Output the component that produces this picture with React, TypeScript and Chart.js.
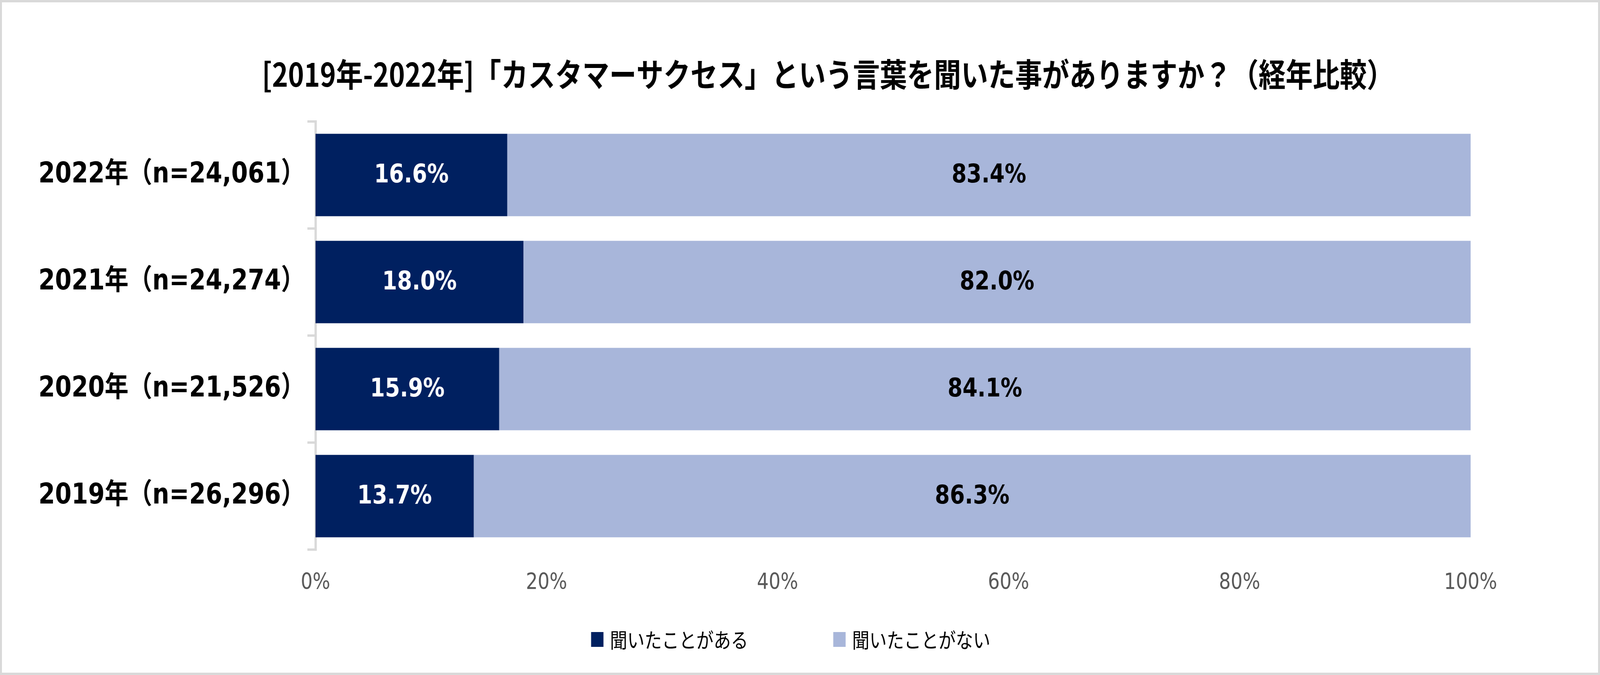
import React, { useEffect, useRef } from 'react';
import { Chart, registerables } from 'chart.js';

Chart.register(...registerables);

const TITLE = '[2019年-2022年]「カスタマーサクセス」という言葉を聞いた事がありますか？（経年比較）';
const CATEGORIES = ['2022年（n=24,061）', '2021年（n=24,274）', '2020年（n=21,526）', '2019年（n=26,296）'];
const SERIES_NAMES = ['聞いたことがある', '聞いたことがない'];
const HEARD = [16.6, 18.0, 15.9, 13.7];
const NOT_HEARD = [83.4, 82.0, 84.1, 86.3];
const X_TICKS_MAX = 100;
const X_TICKS_STEP = 20;

const COLORS = ['#002060', '#A8B6DA'];
const LABEL_COLORS = ['#FFFFFF', '#000000'];
const LATIN = "'DejaVu Sans', 'Noto Sans CJK JP', sans-serif";
const CJK = "'Noto Sans CJK JP', sans-serif";

const W = 4909;
const H = 1728;

const decorPlugin = {
  id: 'decor',
  beforeDraw(chart: any) {
    const ctx = chart.ctx;
    ctx.save();
    ctx.fillStyle = '#FFFFFF';
    ctx.fillRect(0, 0, chart.width, chart.height);
    ctx.restore();
  },
  afterDraw(chart: any) {
    const ctx = chart.ctx;
    ctx.save();
    // title
    ctx.fillStyle = '#000000';
    ctx.font = `bold 83px ${CJK}`;
    ctx.textAlign = 'center';
    ctx.textBaseline = 'middle';
    ctx.fillText(TITLE, 2540, 190);

    // legend
    const ds = chart.data.datasets;
    ctx.font = `53px ${CJK}`;
    const box = 38;
    const gapText = 20;
    const gapItems = 261;
    const widths = ds.map((d: any) => box + gapText + ctx.measureText(d.label).width);
    const total = widths.reduce((a: number, b: number) => a + b, 0) + gapItems * (ds.length - 1);
    let x = 2426 - total / 2;
    const cy = 1637;
    ds.forEach((d: any, i: number) => {
      ctx.fillStyle = d.backgroundColor;
      ctx.fillRect(x, cy - box / 2, box, box);
      ctx.fillStyle = '#000000';
      ctx.textAlign = 'left';
      ctx.textBaseline = 'middle';
      ctx.fillText(d.label, x + box + gapText, cy + 2);
      x += widths[i] + gapItems;
    });

    // outer border
    ctx.strokeStyle = '#D9D9D9';
    ctx.lineWidth = 6;
    ctx.strokeRect(3, 3, chart.width - 6, chart.height - 6);
    ctx.restore();
  },
};

const dataLabelPlugin = {
  id: 'dataLabels',
  afterDatasetsDraw(chart: any) {
    const ctx = chart.ctx;
    ctx.save();
    ctx.font = `bold 66px ${LATIN}`;
    ctx.textAlign = 'center';
    ctx.textBaseline = 'middle';
    chart.data.datasets.forEach((d: any, di: number) => {
      const meta = chart.getDatasetMeta(di);
      meta.data.forEach((el: any, i: number) => {
        const p = el.getCenterPoint();
        ctx.fillStyle = LABEL_COLORS[di];
        ctx.fillText(`${Number(d.data[i]).toFixed(1)}%`, p.x, p.y + 2);
      });
    });
    ctx.restore();
  },
};

export default function App() {
  const ref = useRef<HTMLCanvasElement | null>(null);

  useEffect(() => {
    document.body.style.margin = '0';
    document.body.style.overflow = 'hidden';
    const canvas = ref.current;
    if (!canvas) return;
    const chart = new Chart(canvas, {
      type: 'bar',
      data: {
        labels: CATEGORIES,
        datasets: [
          {
            label: SERIES_NAMES[0],
            data: HEARD,
            backgroundColor: COLORS[0],
            borderWidth: 0,
            barPercentage: 0.77,
            categoryPercentage: 1,
          },
          {
            label: SERIES_NAMES[1],
            data: NOT_HEARD,
            backgroundColor: COLORS[1],
            borderWidth: 0,
            barPercentage: 0.77,
            categoryPercentage: 1,
          },
        ],
      },
      options: {
        indexAxis: 'y',
        responsive: false,
        maintainAspectRatio: false,
        devicePixelRatio: 1,
        animation: false,
        layout: { padding: { top: 311, right: W - 4512, bottom: 0, left: 0 } },
        plugins: {
          legend: { display: false },
          title: { display: false },
          tooltip: { enabled: false },
        },
        scales: {
          x: {
            stacked: true,
            min: 0,
            max: X_TICKS_MAX,
            grid: { display: false, drawTicks: false },
            border: { display: false },
            ticks: {
              stepSize: X_TICKS_STEP,
              padding: 52,
              color: '#595959',
              font: { family: LATIN, size: 57 },
              callback: (v: any) => `${v}%`,
              maxRotation: 0,
            },
            afterFit: (scale: any) => {
              scale.height = H - 1407;
            },
          },
          y: {
            stacked: true,
            grid: {
              display: true,
              offset: true,
              drawOnChartArea: false,
              drawTicks: true,
              tickLength: 25,
              lineWidth: 6,
              color: '#D9D9D9',
            },
            border: { display: true, color: '#D9D9D9', width: 7 },
            ticks: {
              padding: 8,
              color: '#000000',
              font: { family: LATIN, size: 73, weight: 'bold' },
            },
            afterFit: (scale: any) => {
              scale.width = 968;
            },
          },
        },
      },
      plugins: [decorPlugin, dataLabelPlugin],
    } as any);
    canvas.style.width = '100%';
    canvas.style.height = `${H}px`;
    return () => chart.destroy();
  }, []);

  return (
    <div style={{ width: '100vw', height: H, overflow: 'hidden' }}>
      <canvas ref={ref} width={W} height={H} style={{ display: 'block', width: '100%', height: H }} />
    </div>
  );
}
